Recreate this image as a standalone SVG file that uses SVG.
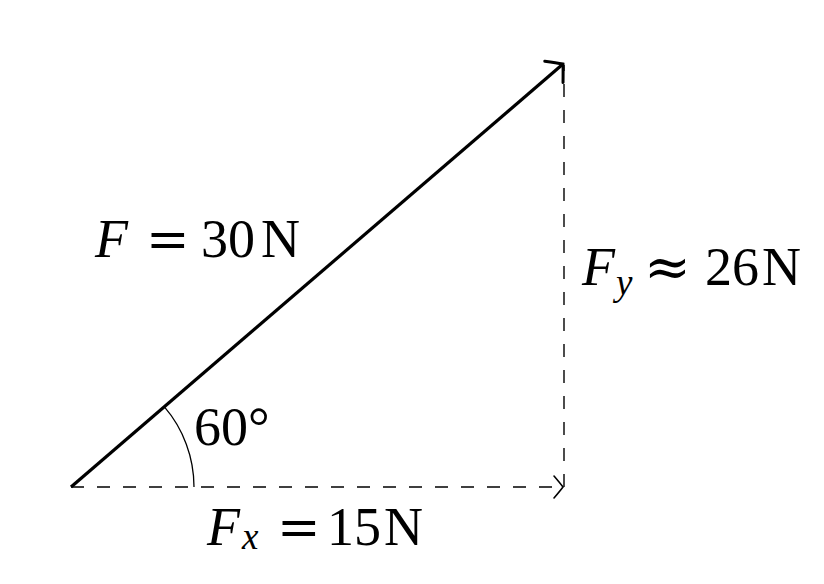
<svg xmlns="http://www.w3.org/2000/svg" width="824" height="584" viewBox="0 0 824 584">
<style>
.lbl{font-family:"Liberation Serif","Times New Roman",serif;font-size:54px;fill:#000}
.it{font-style:italic}
.sub{font-size:37px;font-style:italic}
.rel{font-family:"DejaVu Serif","Liberation Serif",serif;font-size:52px}
.approx{font-size:56px}
.dash{stroke:#000;stroke-width:1.4;stroke-dasharray:13 13;fill:none}
</style>
<defs>
<marker id="headBig" markerUnits="userSpaceOnUse" viewBox="-16 -16 20 32" markerWidth="20" markerHeight="32" refX="0" refY="0" orient="auto">
<path d="M -12,-14 Q -4,-5 0,0 Q -4,5 -12,14" fill="none" stroke="#000" stroke-width="3" stroke-linecap="round"/>
</marker>
<marker id="headSmall" markerUnits="userSpaceOnUse" viewBox="-14 -14 18 28" markerWidth="18" markerHeight="28" refX="0" refY="0" orient="auto">
<path d="M -9,-11 Q -3,-4 0,0 Q -3,4 -9,11" fill="none" stroke="#000" stroke-width="1.6" stroke-linecap="round"/>
</marker>
</defs>
<g id="connectors">
<line id="fy" class="dash" x1="564" y1="487" x2="564" y2="65"/>
<line id="fx" class="dash" x1="71" y1="487" x2="563" y2="487" marker-end="url(#headSmall)"/>
<line id="force" x1="71" y1="487" x2="563" y2="64" stroke="#000" stroke-width="3.2" marker-end="url(#headBig)"/>
<path id="angle-arc" d="M 164.2 406.7 A 123 123 0 0 1 194 487" fill="none" stroke="#000" stroke-width="1.3"/>
</g>
<g id="label-F">
<text class="lbl it" x="95" y="257">F</text>
<text class="lbl rel" x="146" y="257">=</text>
<text class="lbl" x="201" y="257">30</text>
<text class="lbl" x="261" y="257">N</text>
</g>
<g id="label-Fy">
<text class="lbl it" x="582" y="285">F</text>
<text class="lbl sub" x="616" y="295">y</text>
<text class="lbl rel approx" x="644" y="286">≈</text>
<text class="lbl" x="705" y="285">26</text>
<text class="lbl" x="762" y="285">N</text>
</g>
<g id="label-Fx">
<text class="lbl it" x="207" y="545">F</text>
<text class="lbl sub" x="242" y="549">x</text>
<text class="lbl rel" x="277" y="545">=</text>
<text class="lbl" x="327" y="545">15</text>
<text class="lbl" x="384" y="545">N</text>
</g>
<g id="label-angle">
<text class="lbl" x="194" y="445">60°</text>
</g>
</svg>
